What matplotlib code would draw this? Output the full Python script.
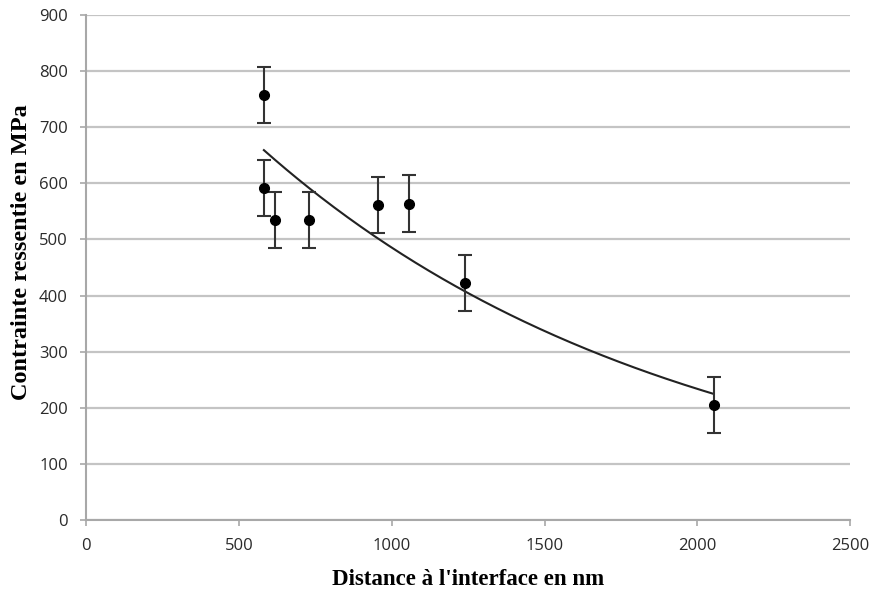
import numpy as np
import matplotlib
matplotlib.use('Agg')
import matplotlib.pyplot as plt

# valeurs
distance = [582, 582, 619, 731, 954, 1056, 1240, 2053]
contrainte = [758, 592, 535, 535, 562, 564, 423, 205]
erreur = [50, 50, 50, 50, 50, 50, 50, 50]

xticks = [0, 500, 1000, 1500, 2000, 2500]
yticks = [0, 100, 200, 300, 400, 500, 600, 700, 800, 900]

# courbe de tendance exponentielle (comme Excel)
b, ln_a = np.polyfit(distance, np.log(contrainte), 1)
xs = np.linspace(min(distance), max(distance), 200)
ys = np.exp(ln_a) * np.exp(b * xs)

fig = plt.figure(figsize=(8.72, 5.92), dpi=100)
ax = fig.add_axes([0.0986, 0.1216, 0.8764, 0.8531])

ax.yaxis.grid(True, color='#c4c4c4', lw=1.6)
ax.set_axisbelow(True)

ax.plot(xs, ys, color='#222222', lw=1.5, zorder=3)
ax.errorbar(distance, contrainte, yerr=erreur, fmt='o', color='black',
            ecolor='#333333', elinewidth=1.5, capsize=5, capthick=1.5,
            markersize=7, zorder=4)

ax.set_xlim(0, 2500)
ax.set_ylim(0, 900)
ax.set_xticks(xticks)
ax.set_yticks(yticks)

for s in ['top', 'right']:
    ax.spines[s].set_visible(False)
for s in ['left', 'bottom']:
    ax.spines[s].set_color('#a8a8a8')
    ax.spines[s].set_linewidth(1.5)
ax.tick_params(axis='both', colors='#a8a8a8', length=4, width=1.2,
               labelcolor='#2a2a2a', labelsize=12)
ax.tick_params(axis='x', pad=9)
ax.tick_params(axis='y', pad=9)
for lbl in ax.get_xticklabels() + ax.get_yticklabels():
    lbl.set_family('Open Sans')

ax.set_xlabel("Distance à l'interface en nm", family='Liberation Serif',
              fontweight='bold', fontsize=16.5, labelpad=11)
ax.set_ylabel("Contrainte ressentie en MPa", family='Liberation Serif',
              fontweight='bold', fontsize=17.5)
ax.yaxis.set_label_coords(-0.071, 0.53)

fig.savefig('out.png', dpi=100)
